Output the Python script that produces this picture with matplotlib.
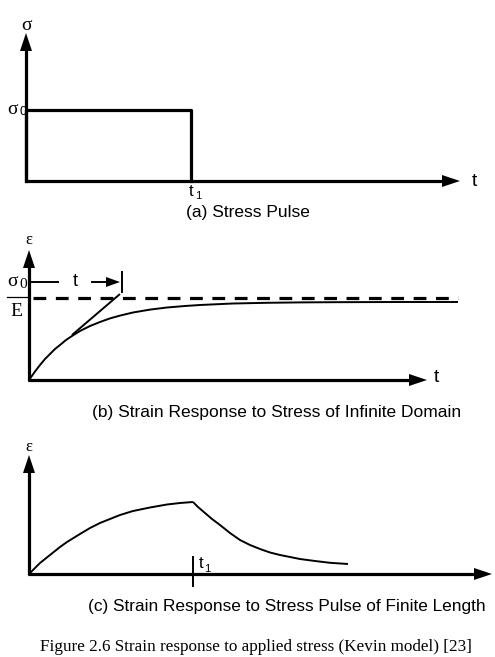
import matplotlib.pyplot as plt

# diagram drawn in pixel coordinates of the 495x657 image (y down)
# (a) stress pulse
pulse_x = [26, 26, 191, 191]
pulse_y = [181, 110, 110, 181]

# (b) strain response, infinite domain
creep_x = [29, 35, 40, 45, 50, 55, 60, 66, 72, 80, 90, 100, 110, 120, 133,
           150, 167, 185, 200, 233, 267, 300, 333, 400, 458]
creep_y = [380, 371.5, 365, 359, 354, 349, 345, 340, 336, 331, 326, 322, 318.4, 315.6, 312.5,
           309.6, 307.5, 306, 305, 303.5, 302.8, 302.4, 302.2, 302, 302]
dash_y = 298
tangent_x = [72, 120]
tangent_y = [335, 294]

# (c) strain response, finite pulse
rise_x = [29, 35, 40, 50, 60, 67, 80, 90, 100, 110, 120, 133, 150, 167, 180, 193]
rise_y = [574, 568, 563, 555, 547, 542, 534, 528, 523, 519, 515, 511, 507.5, 504.5, 503, 502]
decay_x = [193, 198, 205, 212, 220, 230, 240, 250, 260, 270, 280, 290, 300, 315, 330, 348]
decay_y = [502, 507, 513, 519, 525, 533, 540, 545, 549, 552.5, 555, 557, 559, 561, 562.8, 564]
t1_c = 193

K = 'black'
sans = 'Liberation Sans'
serif = 'Liberation Serif'

fig = plt.figure(figsize=(4.95, 6.57), dpi=100)
ax = fig.add_axes([0, 0, 1, 1])
ax.set_xlim(0, 495)
ax.set_ylim(657, 0)
ax.axis('off')

AX_LW = 2.3
CV_LW = 1.4


def head(x, y, d, L=18, W=6):
    # filled triangular arrow head, tip at (x, y), direction 'up' or 'right'
    if d == 'up':
        ax.fill([x, x - W, x + W], [y, y + L, y + L], color=K, lw=0)
    else:
        ax.fill([x, x - L, x - L], [y, y - W, y + W], color=K, lw=0)


def axes_pair(x0, y0, ytop, xend):
    ax.plot([x0, x0], [y0 + 1, ytop + 14], color=K, lw=AX_LW, solid_capstyle='butt')
    ax.plot([x0 - 1, xend - 14], [y0, y0], color=K, lw=AX_LW, solid_capstyle='butt')
    head(x0, ytop, 'up')
    head(xend, y0, 'right')


def curve(xs, ys):
    ax.plot(xs, ys, color=K, lw=CV_LW, solid_joinstyle='round', solid_capstyle='butt')


# ---- (a)
axes_pair(26, 181, 33, 460)
ax.plot(pulse_x, pulse_y, color=K, lw=AX_LW)
ax.text(26, 25, 'σ', fontsize=14, family=serif, ha='center', va='center')
ax.text(474, 181, 't', fontsize=14, family=sans, ha='center', va='center')
ax.text(13, 109, 'σ', fontsize=14, family=serif, ha='center', va='center')
ax.text(19, 112, '0', fontsize=9, family=sans, ha='left', va='center')
ax.text(191, 191, 't', fontsize=12, family=sans, ha='center', va='center')
ax.text(195, 196, '1', fontsize=8, family=sans, ha='left', va='center')
ax.text(248, 213, '(a) Stress Pulse', fontsize=12.5, family=sans, ha='center', va='center')

# ---- (b)
axes_pair(29, 380, 250, 427)
ax.plot([33, 458], [dash_y, dash_y], color=K, lw=AX_LW, dashes=(4, 3))
curve(creep_x, creep_y)
curve(tangent_x, tangent_y)
ax.plot([29, 58], [282, 282], color=K, lw=CV_LW)
ax.plot([92, 108], [282, 282], color=K, lw=CV_LW)
head(120, 282, 'right', L=14, W=5)
ax.plot([122, 122], [272, 292], color=K, lw=CV_LW)
ax.text(75, 281, 't', fontsize=13, family=sans, ha='center', va='center')
ax.text(29, 240, 'ε', fontsize=12, family=serif, ha='center', va='center')
ax.text(436, 378, 't', fontsize=14, family=sans, ha='center', va='center')
ax.text(13, 281, 'σ', fontsize=14, family=serif, ha='center', va='center')
ax.text(19, 285, '0', fontsize=11, family=serif, ha='left', va='center')
ax.plot([7, 27], [297, 297], color=K, lw=0.9)
ax.text(16, 312, 'E', fontsize=14, family=serif, ha='center', va='center')
ax.text(277, 413, '(b) Strain Response to Stress of Infinite Domain',
        fontsize=12.5, family=sans, ha='center', va='center')

# ---- (c)
axes_pair(29, 574, 455, 492)
curve(rise_x, rise_y)
curve(decay_x, decay_y)
ax.plot([t1_c, t1_c], [557, 586], color=K, lw=CV_LW)
ax.text(199, 564, 't', fontsize=12, family=sans, ha='left', va='center')
ax.text(204, 569, '1', fontsize=8, family=sans, ha='left', va='center')
ax.text(29, 447, 'ε', fontsize=12, family=serif, ha='center', va='center')
ax.text(287, 607, '(c) Strain Response to Stress Pulse of Finite Length',
        fontsize=12.4, family=sans, ha='center', va='center')

ax.text(256, 647, 'Figure 2.6 Strain response to applied stress (Kevin model) [23]',
        fontsize=12.3, family=serif, ha='center', va='center')

fig.savefig('out.png', dpi=100)
